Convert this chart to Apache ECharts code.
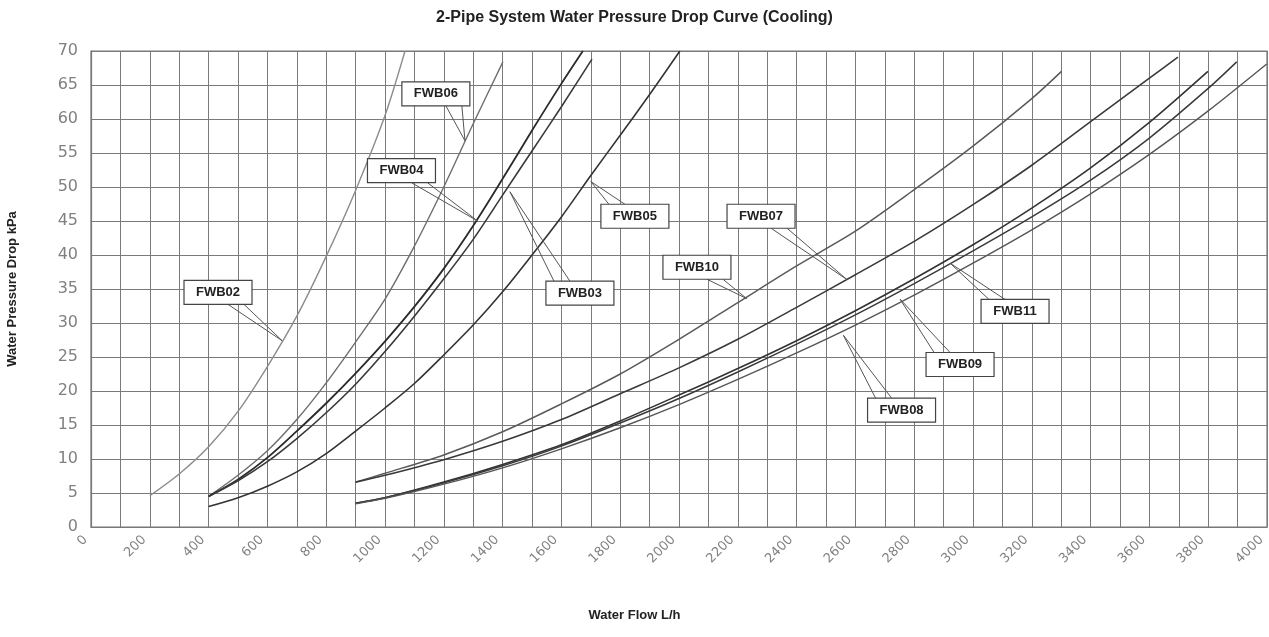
<!DOCTYPE html>
<html>
<head>
<meta charset="utf-8">
<script src="https://cdn.jsdelivr.net/npm/echarts@6/dist/echarts.min.js"></script>
<style>
  html, body { margin: 0; padding: 0; background: #fff; }
  #chart { width: 1269px; height: 637px; }
</style>
</head>
<body>
<div id="chart"></div>
<script>
// Flow ticks (L/h) and pressure ticks (kPa)
const flowTicks = [0, 200, 400, 600, 800, 1000, 1200, 1400, 1600, 1800, 2000, 2200, 2400, 2600, 2800, 3000, 3200, 3400, 3600, 3800, 4000];
const dropTicks = [0, 5, 10, 15, 20, 25, 30, 35, 40, 45, 50, 55, 60, 65, 70];

// Pressure drop curves: flow (L/h) and drop (kPa) per unit
const flow02 = [200, 300, 400, 500, 600, 700, 800, 900, 1000, 1068];
const drop02 = [4.6, 7.8, 11.8, 17.0, 23.6, 31.0, 39.8, 49.5, 60.5, 70.0];

const flow06 = [400, 500, 600, 700, 800, 900, 1000, 1100, 1200, 1300, 1401];
const drop06 = [4.5, 7.6, 11.2, 15.8, 21.2, 27.2, 33.5, 41.3, 50.0, 59.3, 68.4];

const flow04 = [400, 500, 600, 700, 800, 900, 1000, 1100, 1200, 1300, 1400, 1500, 1600, 1673];
const drop04 = [4.5, 7.0, 10.2, 14.1, 18.2, 22.6, 27.3, 32.4, 38.0, 44.3, 51.2, 58.3, 65.2, 70.0];

const flow03 = [400, 500, 600, 700, 800, 900, 1000, 1100, 1200, 1300, 1400, 1500, 1600, 1704];
const drop03 = [4.5, 6.8, 9.6, 13.0, 16.8, 21.0, 25.8, 31.0, 36.5, 42.3, 48.8, 55.3, 61.8, 68.8];

const flow05 = [400, 500, 600, 700, 800, 900, 1000, 1100, 1200, 1300, 1400, 1500, 1600, 1700, 1800, 1900, 2003];
const drop05 = [3.0, 4.3, 6.0, 8.1, 10.8, 14.1, 17.5, 21.1, 25.3, 29.7, 34.6, 40.0, 45.6, 51.7, 57.6, 63.6, 70.0];

const flow10 = [900, 1000, 1200, 1400, 1600, 1800, 2000, 2200, 2400, 2600, 2800, 3000, 3200, 3301];
const drop10 = [6.6, 7.9, 10.6, 14.0, 18.1, 22.5, 27.6, 33.0, 38.4, 43.5, 49.6, 56.0, 63.0, 67.0];

const flow07 = [900, 1000, 1200, 1400, 1600, 1800, 2000, 2200, 2400, 2600, 2800, 3000, 3200, 3400, 3600, 3697];
const drop07 = [6.6, 7.6, 9.9, 12.6, 15.8, 19.6, 23.4, 27.6, 32.3, 37.1, 42.0, 47.4, 53.2, 59.6, 66.0, 69.1];

const flow11 = [900, 1000, 1200, 1400, 1600, 1800, 2000, 2200, 2400, 2600, 2800, 3000, 3200, 3400, 3600, 3799];
const drop11 = [3.5, 4.3, 6.6, 9.2, 12.1, 15.6, 19.4, 23.3, 27.4, 31.8, 36.5, 41.5, 46.9, 52.8, 59.5, 67.0];

const flow09 = [900, 1000, 1200, 1400, 1600, 1800, 2000, 2200, 2400, 2600, 2800, 3000, 3200, 3400, 3600, 3800, 3897];
const drop09 = [3.5, 4.3, 6.5, 9.0, 11.9, 15.3, 18.9, 22.8, 26.9, 31.2, 35.8, 40.6, 45.6, 51.0, 57.2, 64.5, 68.4];

const flow08 = [900, 1000, 1200, 1400, 1600, 1800, 2000, 2200, 2400, 2600, 2800, 3000, 3200, 3400, 3600, 3800, 3999];
const drop08 = [3.4, 4.2, 6.3, 8.7, 11.5, 14.6, 18.0, 21.7, 25.6, 29.7, 34.1, 38.8, 43.7, 49.0, 54.8, 61.2, 68.1];

// Callout boxes: name, box centre (flow, drop), leader tip (flow, drop)
const calloutNames = ['FWB02', 'FWB06', 'FWB04', 'FWB03', 'FWB05', 'FWB07', 'FWB10', 'FWB11', 'FWB09', 'FWB08'];
const calloutBox = [[432, 34.5], [1173, 63.7], [1056, 52.4], [1663, 34.4], [1850, 45.7], [2279, 45.7], [2061, 38.2], [3143, 31.7], [2956, 23.9], [2757, 17.2]];
const calloutTip = [[650, 27.4], [1272, 56.8], [1315, 45.0], [1425, 49.3], [1700, 50.8], [2571, 36.4], [2230, 33.6], [2922, 38.8], [2752, 33.5], [2559, 28.2]];

const zip = (xs, ys) => xs.map((x, i) => [x, ys[i]]);

const curves = [
  { name: 'FWB02', data: zip(flow02, drop02), color: '#8c8c8c', width: 1.4 },
  { name: 'FWB06', data: zip(flow06, drop06), color: '#6e6e6e', width: 1.4 },
  { name: 'FWB04', data: zip(flow04, drop04), color: '#2a2a2a', width: 1.8 },
  { name: 'FWB03', data: zip(flow03, drop03), color: '#3a3a3a', width: 1.6 },
  { name: 'FWB05', data: zip(flow05, drop05), color: '#333333', width: 1.6 },
  { name: 'FWB10', data: zip(flow10, drop10), color: '#5a5a5a', width: 1.5 },
  { name: 'FWB07', data: zip(flow07, drop07), color: '#3a3a3a', width: 1.6 },
  { name: 'FWB11', data: zip(flow11, drop11), color: '#333333', width: 1.6 },
  { name: 'FWB09', data: zip(flow09, drop09), color: '#3a3a3a', width: 1.5 },
  { name: 'FWB08', data: zip(flow08, drop08), color: '#555555', width: 1.4 }
];

const chart = echarts.init(document.getElementById('chart'));

const BOX_W = 68, BOX_H = 24;
const FONT = '"Liberation Sans", Arial, sans-serif';

function renderCallout(params, api) {
  const c = api.coord([api.value(0), api.value(1)]);
  const t = api.coord([api.value(2), api.value(3)]);
  const name = calloutNames[params.dataIndex];
  const left = c[0] - BOX_W / 2, right = c[0] + BOX_W / 2;
  const top = c[1] - BOX_H / 2, bottom = c[1] + BOX_H / 2;
  const edgeY = t[1] > c[1] ? bottom : top;
  const b1 = t[0] > c[0] ? [right - 24, edgeY] : [left + 8, edgeY];
  const b2 = t[0] > c[0] ? [right - 8, edgeY] : [left + 24, edgeY];
  return {
    type: 'group',
    children: [
      { type: 'polyline', shape: { points: [b1, t, b2] },
        style: { stroke: '#555', lineWidth: 1, fill: null } },
      { type: 'rect', shape: { x: left, y: top, width: BOX_W, height: BOX_H },
        style: { fill: '#fff', stroke: '#444', lineWidth: 1.2 } },
      { type: 'text', x: c[0], y: c[1],
        style: { text: name, fill: '#222', font: 'bold 13px ' + FONT,
                 align: 'center', verticalAlign: 'middle' } }
    ]
  };
}

const option = {
  backgroundColor: '#fff',
  animation: false,
  title: {
    text: '2-Pipe System Water Pressure Drop Curve (Cooling)',
    left: 'center', top: 5,
    textStyle: { fontFamily: FONT, fontSize: 16, fontWeight: 'bold', color: '#222' }
  },
  graphic: [{
    type: 'text', left: 'center', top: 609,
    style: { text: 'Water Flow L/h', font: 'bold 13px ' + FONT, fill: '#222' }
  }],
  grid: {
    left: 91, right: 2, top: 51, bottom: 110, outerBoundsMode: 'none',
    show: true, borderColor: '#777', borderWidth: 1.2
  },
  xAxis: {
    type: 'value', min: flowTicks[0], max: flowTicks[flowTicks.length - 1], interval: 100,
    axisLine: { show: true, lineStyle: { color: '#777', width: 1.2 } },
    axisTick: { show: false },
    splitLine: { show: true, lineStyle: { color: '#7a7a7a', width: 1 } },
    axisLabel: {
      rotate: 45, margin: 5, padding: [0, 8, 0, 0], color: '#808080', fontSize: 13,
      fontFamily: '"DejaVu Sans", sans-serif',
      formatter: v => (flowTicks.indexOf(v) >= 0 ? String(v) : '')
    }
  },
  yAxis: {
    type: 'value', min: dropTicks[0], max: dropTicks[dropTicks.length - 1], interval: 5,
    name: 'Water Pressure Drop kPa', nameLocation: 'middle', nameGap: 72, nameRotate: 90,
    nameTextStyle: { fontFamily: FONT, fontSize: 13, fontWeight: 'bold', color: '#222' },
    axisLine: { show: true, lineStyle: { color: '#777', width: 1.2 } },
    axisTick: { show: false },
    splitLine: { show: true, lineStyle: { color: '#7a7a7a', width: 1 } },
    axisLabel: { margin: 13, color: '#808080', fontSize: 16, fontFamily: '"DejaVu Sans", sans-serif' }
  },
  series: curves.map(c => ({
    name: c.name, type: 'line', data: c.data, smooth: 0.3, symbol: 'none', clip: true,
    lineStyle: { color: c.color, width: c.width }
  })).concat([{
    type: 'custom', name: 'callouts', coordinateSystem: 'cartesian2d', clip: false, z: 10,
    encode: { x: [0, 2], y: [1, 3] },
    data: calloutBox.map((b, i) => [b[0], b[1], calloutTip[i][0], calloutTip[i][1]]),
    renderItem: renderCallout
  }])
};

chart.setOption(option);
</script>
</body>
</html>
